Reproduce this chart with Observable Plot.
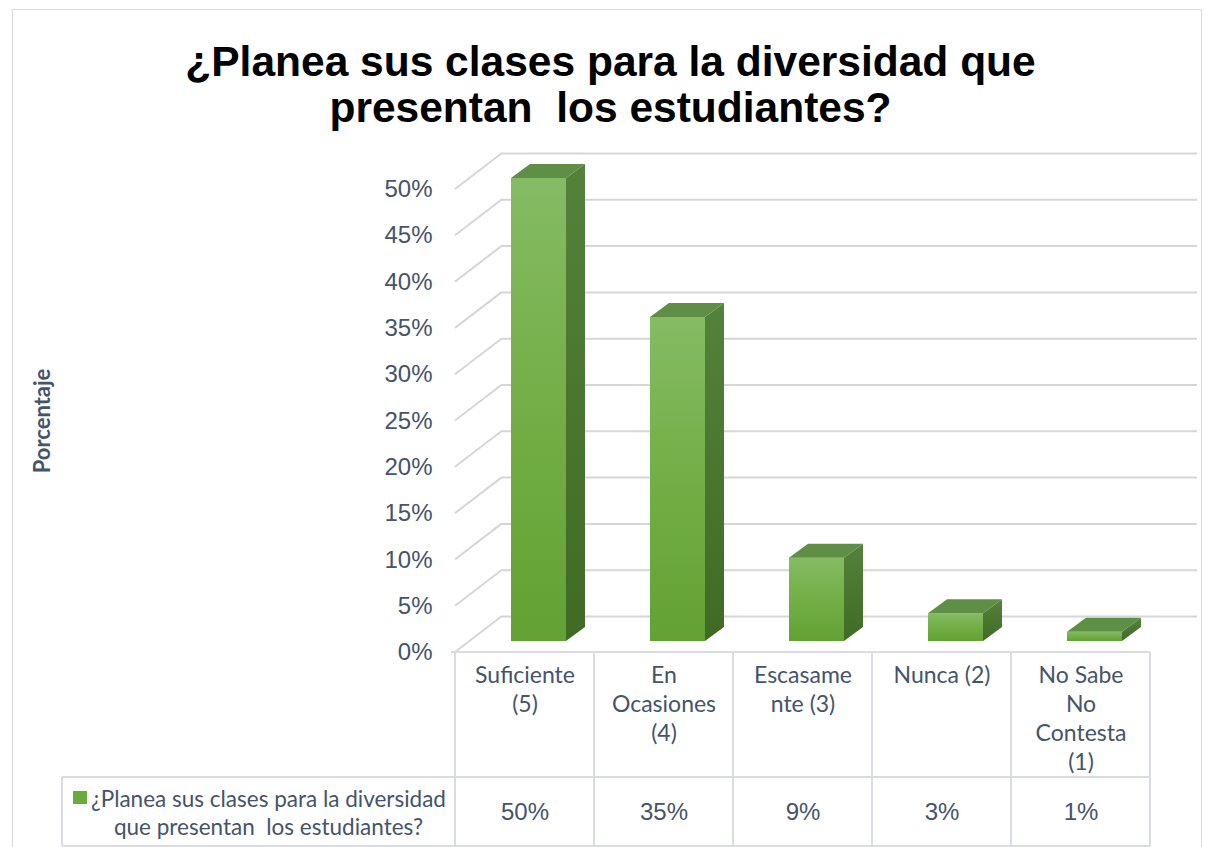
<!DOCTYPE html>
<html>
<head>
<meta charset="utf-8">
<script src="https://cdn.jsdelivr.net/npm/d3@7"></script>
<script src="https://cdn.jsdelivr.net/npm/@observablehq/plot@0.6"></script>
<style>
  body { margin: 0; background: #fff; }
  #wrap { position: relative; width: 1205px; height: 847px; overflow: hidden; background: #fff; }
  #frame { position: absolute; left: 12px; top: 9px; width: 1190px; height: 860px; border: 1px solid #d9d9d9; box-sizing: border-box; }
  #title { position: absolute; left: 12px; width: 1197px; top: 39px; text-align: center;
           font: bold 42.5px "Liberation Sans", Arial, sans-serif; line-height: 46px; white-space: pre; color: #000; }
  #chart { position: absolute; left: 0; top: 140px; }
</style>
</head>
<body>
<div id="wrap">
  <div id="frame"></div>
  <div id="title"></div>
  <div id="chart"></div>
</div>
<script>
// ---- data ----
const titleText = "¿Planea sus clases para la diversidad que\npresentan  los estudiantes?";
const seriesName = "¿Planea sus clases para la diversidad\nque presentan  los estudiantes?";
const yTitle = "Porcentaje";
const categories = ["Suficiente (5)", "En Ocasiones (4)", "Escasamente (3)", "Nunca (2)", "No Sabe No Contesta (1)"];
const categoryTicks = ["Suficiente\n(5)", "En\nOcasiones\n(4)", "Escasame\nnte (3)", "Nunca (2)", "No Sabe\nNo\nContesta\n(1)"];
const values = [0.50, 0.35, 0.09, 0.03, 0.01];
const valueLabels = ["50%", "35%", "9%", "3%", "1%"];
const yTicks = [0, 0.05, 0.10, 0.15, 0.20, 0.25, 0.30, 0.35, 0.40, 0.45, 0.50];

document.getElementById("title").textContent = titleText;

const rows = categories.map((c, i) => ({category: c, tick: categoryTicks[i], value: values[i], label: valueLabels[i]}));

// ---- styles ----
const textColor = "#44546a";
const gridColor = "#d6d6d6";
const tableColor = "#d9dce1";
const depthX = 47, depthY = -36;       // back wall offset
const barShiftX = 14, barShiftY = -11; // bars sit inside the depth
const barDX = 19, barDY = -14;         // bar depth
const barWidth = 55;
const dataRowH = 70;
const legendLeft = 62;
const W = 1205, H = 707;
const mL = 455, mR = 55, mT = 49, mB = 195;
const bandW = (W - mL - mR) / categories.length;
const barInset = (bandW - barWidth) / 2;

function defsMark() {
  const g = d3.create("svg:g");
  const defs = g.append("defs");
  const f = defs.append("linearGradient").attr("id", "gFront").attr("x1", 0).attr("y1", 0).attr("x2", 0).attr("y2", 1);
  f.append("stop").attr("offset", 0).attr("stop-color", "#85bb64");
  f.append("stop").attr("offset", 0.55).attr("stop-color", "#71ad43");
  f.append("stop").attr("offset", 1).attr("stop-color", "#62a134");
  const s = defs.append("linearGradient").attr("id", "gSide").attr("x1", 0).attr("y1", 0).attr("x2", 0).attr("y2", 1);
  s.append("stop").attr("offset", 0).attr("stop-color", "#55823b");
  s.append("stop").attr("offset", 1).attr("stop-color", "#3f6b24");
  return g.node();
}

function wallDiagonals(index, scales, values, dims) {
  const y = scales.y;
  const g = d3.create("svg:g").attr("stroke", gridColor).attr("stroke-width", 2).attr("fill", "none");
  for (const t of yTicks) {
    g.append("line")
      .attr("x1", dims.marginLeft).attr("y1", y(t))
      .attr("x2", dims.marginLeft + depthX).attr("y2", y(t) + depthY);
  }
  return g.node();
}

function tableLines(index, scales, values, dims) {
  const x = scales.x;
  const top = dims.height - dims.marginBottom;
  const rowY = dims.height - dataRowH;
  const bottom = dims.height - 1;
  const right = dims.width - dims.marginRight;
  const g = d3.create("svg:g").attr("stroke", tableColor).attr("stroke-width", 2).attr("fill", "none");
  const line = (x1, y1, x2, y2) => g.append("line").attr("x1", x1).attr("y1", y1).attr("x2", x2).attr("y2", y2);
  line(dims.marginLeft - 4, top, right, top);
  line(legendLeft, rowY, right, rowY);
  line(legendLeft, bottom, right, bottom);
  line(legendLeft, rowY, legendLeft, bottom);
  for (const c of categories) line(x(c), top, x(c), bottom);
  line(right, top, right, bottom);
  // legend key
  g.append("rect").attr("x", legendLeft + 11).attr("y", rowY + 14).attr("width", 14).attr("height", 13)
    .attr("fill", "#6aab3c").attr("stroke", "none");
  return g.node();
}

function barFaces(index, scales, vals, dims) {
  const {x, y} = scales;
  const bw = x.bandwidth ? x.bandwidth() : bandW;
  const inset = (bw - barWidth) / 2;
  const g = d3.create("svg:g");
  rows.forEach(r => {
    const x0 = x(r.category) + inset + barShiftX;
    const x1 = x0 + barWidth;
    const yT = y(r.value) + barShiftY;
    const yB = y(0) + barShiftY;
    g.append("polygon")
      .attr("points", [[x1, yT], [x1 + barDX, yT + barDY], [x1 + barDX, yB + barDY], [x1, yB]].map(p => p.join(",")).join(" "))
      .attr("fill", "url(#gSide)");
    g.append("polygon")
      .attr("points", [[x0, yT], [x0 + barDX, yT + barDY], [x1 + barDX, yT + barDY], [x1, yT]].map(p => p.join(",")).join(" "))
      .attr("fill", "#5f8e46");
  });
  return g.node();
}

const chart = Plot.plot({
  width: W,
  height: H,
  marginLeft: mL,
  marginRight: mR,
  marginTop: mT,
  marginBottom: mB,
  style: {fontFamily: "'Liberation Sans', Arial, sans-serif", background: "transparent", overflow: "visible"},
  x: {type: "band", domain: categories, padding: 0, axis: null},
  y: {domain: [0, 0.5], axis: null},
  marks: [
    defsMark,
    Plot.ruleY(yTicks, {dx: depthX, dy: depthY, stroke: gridColor, strokeWidth: 2}),
    wallDiagonals,
    tableLines,
    Plot.barY(rows, {x: "category", y: "value", insetLeft: barInset, insetRight: barInset, dx: barShiftX, dy: barShiftY, fill: "url(#gFront)"}),
    barFaces,
    Plot.axisY(yTicks, {anchor: "left", tickSize: 0, tickPadding: 23, tickFormat: d3.format(".0%"), fontSize: 24, color: textColor, label: null}),
    Plot.text([yTitle], {frameAnchor: "left", dx: -413, rotate: -90, textAnchor: "middle", lineAnchor: "middle", fontSize: 22, fontWeight: "bold", fontFamily: "Lato, sans-serif", fill: textColor}),
    Plot.text(rows, {x: "category", text: "tick", frameAnchor: "bottom", lineAnchor: "top", dy: 10, lineHeight: 29 / 23, fontSize: 23, fontFamily: "Lato, sans-serif", fill: textColor}),
    Plot.text(rows, {x: "category", text: "label", frameAnchor: "bottom", lineAnchor: "middle", dy: mB - dataRowH / 2, fontSize: 24, fill: textColor}),
    Plot.text([seriesName], {frameAnchor: "bottom-left", lineAnchor: "middle", dx: 268 - mL, dy: mB - dataRowH / 2, textAnchor: "middle", lineHeight: 28 / 22.5, fontSize: 22.5, fontFamily: "Lato, sans-serif", fill: textColor})
  ]
});
document.getElementById("chart").appendChild(chart);
</script>
</body>
</html>
